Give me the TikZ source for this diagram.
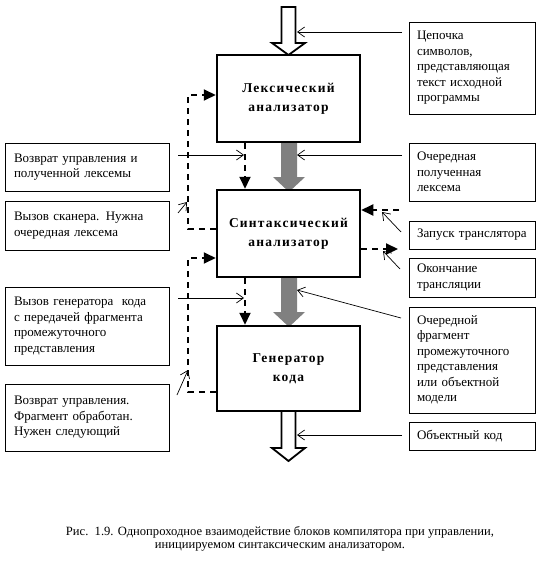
\documentclass[tikz,border=0pt]{standalone}
\usepackage{fontspec}
\setmainfont{Liberation Serif}
\usetikzlibrary{arrows.meta}
\tikzset{
  mainbox/.style={draw, line width=2.5pt, fill=white, minimum width=143pt, align=center,
    font=\fontsize{13.5}{19}\selectfont\bfseries\addfontfeatures{LetterSpace=9}, inner sep=0pt},
  lbox/.style={draw, line width=0.8pt, fill=white, minimum width=164pt, text width=146pt,
    inner xsep=9pt, inner ysep=0pt, align=left, font=\fontsize{13}{15.5}\selectfont},
  rbox/.style={draw, line width=0.8pt, fill=white, minimum width=126pt, text width=110pt,
    inner xsep=8pt, inner ysep=0pt, align=left, font=\fontsize{13}{15.5}\selectfont},
  bigarrow/.style={draw, line width=1.8pt, fill=white, line join=miter},
  grayarrow/.style={fill=black!50},
  dashline/.style={line width=2pt, dash pattern=on 6pt off 5pt},
  dasharrow/.style={dashline, -{Triangle[length=12pt,width=11pt]}},
  thinarrow/.style={line width=0.7pt, -{Straight Barb[length=7pt,width=10pt,line width=0.7pt]}},
}
\begin{document}
\begin{tikzpicture}[x=1pt,y=-1pt]
\useasboundingbox (0,0) rectangle (559,567);
% big arrows
\draw[bigarrow] (281.5,7) -- (295.5,7) -- (295.5,43) -- (305,43) -- (288.5,55) -- (272,43) -- (281.5,43) -- cycle;
\fill[grayarrow] (281,142) -- (297,142) -- (297,177) -- (305,177) -- (289,192) -- (273,177) -- (281,177) -- cycle;
\fill[grayarrow] (281,277) -- (297,277) -- (297,312) -- (305,312) -- (289,327) -- (273,312) -- (281,312) -- cycle;
\draw[bigarrow] (281.5,411) -- (295.5,411) -- (295.5,448) -- (305,448) -- (288.5,461) -- (272,448) -- (281.5,448) -- cycle;
% main boxes
\node[mainbox, minimum height=87pt] (lex) at (288.5,98.5) {Лексический\\анализатор};
\node[mainbox, minimum height=87pt] (syn) at (288.5,233.5) {Синтаксический\\анализатор};
\node[mainbox, minimum height=85pt] (gen) at (288.5,368.5) {Генератор\\кода};
% left boxes
\node[lbox, minimum height=48pt] (l1) at (87,167) {Возврат управления и\\полученной лексемы};
\node[lbox, minimum height=49pt] (l2) at (87,225.5) {Вызов сканера. Нужна\\очередная лексема};
\node[lbox, minimum height=78pt] (l3) at (87,326) {Вызов генератора\ \ кода\\с передачей фрагмента\\промежуточного\\представления};
\node[lbox, minimum height=67pt] (l4) at (87,417.5) {Возврат управления.\\Фрагмент обработан.\\Нужен следующий\\[4pt]};
% right boxes
\node[rbox, minimum height=92pt] (r1) at (472,68) {Цепочка\\символов,\\представляющая\\текст исходной\\программы};
\node[rbox, minimum height=58pt] (r2) at (472,172) {Очередная\\полученная\\лексема};
\node[rbox, minimum height=28pt] (r3) at (472,235) {\mbox{Запуск транслятора}};
\node[rbox, minimum height=39pt] (r4) at (472,277.5) {Окончание\\трансляции};
\node[rbox, minimum height=106pt] (r5) at (472,360) {Очередной\\фрагмент\\промежуточного\\представления\\или объектной\\модели};
\node[rbox, minimum height=28pt] (r6) at (472,436) {Объектный код};
% dashed control flow
\draw[dasharrow] (lex.south -| 245,0) -- (syn.north -| 245,0);
\draw[dasharrow] (syn.south -| 245,0) -- (gen.north -| 245,0);
\draw[dasharrow] (syn.west |- 0,229) -- (188,229) |- (lex.west |- 0,95);
\draw[dasharrow] (gen.west |- 0,392) -- (188,392) |- (syn.west |- 0,258);
\coordinate (s3) at (399,210);
\coordinate (s4) at (398,249);
\draw[dasharrow] (s3) -- (syn.east |- s3);
\draw[dasharrow] (syn.east |- s4) -- (s4);
% thin pointer lines
\coordinate (a1s) at (402,32);  \coordinate (a1t) at (297,32);
\coordinate (a2s) at (402,155); \coordinate (a2t) at (297,155);
\coordinate (a3s) at (178,155); \coordinate (a3t) at (244,155);
\coordinate (a4s) at (401,232); \coordinate (a4t) at (382,212);
\coordinate (a5s) at (400,269); \coordinate (a5t) at (383,251);
\coordinate (a6s) at (178,213); \coordinate (a6t) at (187,202);
\coordinate (a7s) at (178,298); \coordinate (a7t) at (244,298);
\coordinate (a8s) at (401,318); \coordinate (a8t) at (297,290);
\coordinate (a9s) at (177,395); \coordinate (a9t) at (188,370);
\coordinate (a10s) at (402,435); \coordinate (a10t) at (297,435);
\foreach \i in {1,...,10} \draw[thinarrow] (a\i s) -- (a\i t);
% caption
\node[align=center, font=\fontsize{12.6}{13.5}\selectfont] (cap) at (280,539)
  {Рис.\ \ 1.9. Однопроходное взаимодействие блоков компилятора при управлении,\\инициируемом синтаксическим анализатором.};
\end{tikzpicture}
\end{document}
